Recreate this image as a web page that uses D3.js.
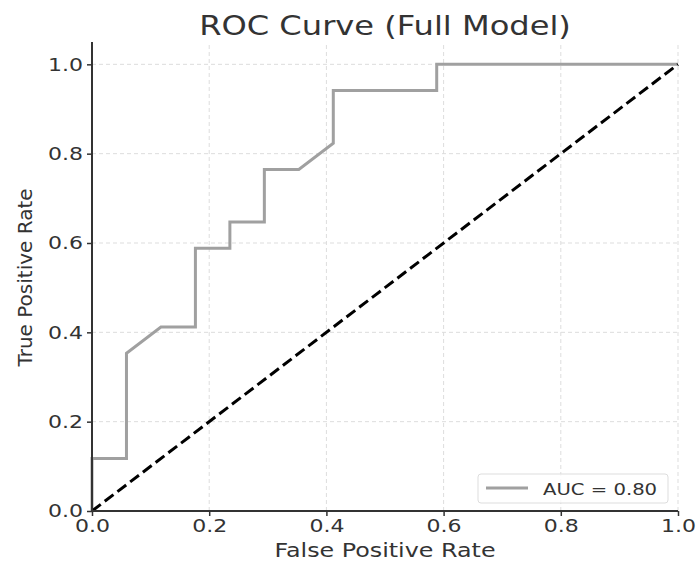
<!DOCTYPE html>
<html><head><meta charset="utf-8">
<script src="https://cdn.jsdelivr.net/npm/d3@7"></script>
<style>body{margin:0;background:#fff}svg text{font-family:"DejaVu Sans",sans-serif;fill:#333}</style>
</head><body>
<script>
const fpr = [0, 0, 1/17, 1/17, 2/17, 3/17, 3/17, 4/17, 4/17, 5/17, 5/17, 6/17, 7/17, 7/17, 10/17, 10/17, 1];
const tpr = [0, 2/17, 2/17, 6/17, 7/17, 7/17, 10/17, 10/17, 11/17, 11/17, 13/17, 13/17, 14/17, 16/17, 16/17, 1, 1];
const xTicks = [0, 0.2, 0.4, 0.6, 0.8, 1.0];
const yTicks = [0, 0.2, 0.4, 0.6, 0.8, 1.0];
const aucLabel = "AUC = 0.80";
const W = 697, H = 562;
const SX = 1.19;
const svg = d3.select("body").append("svg").attr("width", W).attr("height", H);
const x = d3.scaleLinear().domain([0,1]).range([92, 678]);
const y = d3.scaleLinear().domain([0,1.05]).range([511, 42]);
// grid
svg.append("g").selectAll("line").data(xTicks).join("line")
  .attr("x1", d=>x(d)).attr("x2", d=>x(d)).attr("y1", y(0)).attr("y2", y(1.05))
  .attr("stroke", "#ddd").attr("stroke-width", 1).attr("stroke-dasharray", "4,3");
svg.append("g").selectAll("line").data(yTicks).join("line")
  .attr("y1", d=>y(d)).attr("y2", d=>y(d)).attr("x1", x(0)).attr("x2", x(1))
  .attr("stroke", "#ddd").attr("stroke-width", 1).attr("stroke-dasharray", "4,3");
// ROC line
const pts = fpr.map((f,i)=>[f, tpr[i]]);
svg.append("path").datum(pts).attr("fill","none").attr("stroke","#a0a0a0").attr("stroke-width",3)
  .attr("d", d3.line().x(d=>x(d[0])).y(d=>y(d[1])));
// diagonal
svg.append("path").datum([[0,0],[1,1]]).attr("fill","none").attr("stroke","#000").attr("stroke-width",3)
  .attr("stroke-dasharray","11,5")
  .attr("d", d3.line().x(d=>x(d[0])).y(d=>y(d[1])));
// axes
const xa = svg.append("g").attr("transform",`translate(0,${y(0)})`)
  .call(d3.axisBottom(x).tickValues(xTicks).tickFormat(d3.format(".1f")).tickSize(5).tickPadding(3));
const ya = svg.append("g").attr("transform",`translate(${x(0)},0)`)
  .call(d3.axisLeft(y).tickValues(yTicks).tickFormat(d3.format(".1f")).tickSize(5).tickPadding(4));
[xa, ya].forEach(a=>{
  a.select(".domain").attr("stroke","#333").attr("stroke-width",2);
  a.selectAll(".tick line").attr("stroke","#333").attr("stroke-width",1.5);
  a.selectAll(".tick text").attr("font-size",18.5).attr("fill","#333").attr("font-family","DejaVu Sans")
    .attr("transform", `scale(${SX},1)`);
});
ya.selectAll(".tick text").attr("x", -9/SX);
xa.select(".domain").attr("d", `M${x(0)},0H${x(1)}`);
ya.select(".domain").attr("d", `M0,${y(0)}V${y(1.05)}`);
// title and labels
const cx = (x(0)+x(1))/2;
svg.append("text").attr("transform", `translate(${cx},35) scale(${SX},1)`).attr("text-anchor","middle")
  .attr("font-size", 27).text("ROC Curve (Full Model)");
svg.append("text").attr("transform", `translate(${cx},557) scale(${SX},1)`).attr("text-anchor","middle")
  .attr("font-size", 20).text("False Positive Rate");
svg.append("text").attr("transform", `translate(32,${(y(0)+y(1.05))/2 + 1}) rotate(-90)`).attr("text-anchor","middle")
  .attr("font-size", 20).text("True Positive Rate");
// legend
const lg = svg.append("g");
lg.append("rect").attr("x",478).attr("y",474).attr("width",190).attr("height",29).attr("rx",3)
  .attr("fill","#fff").attr("fill-opacity",0.8).attr("stroke","#ddd");
lg.append("line").attr("x1",486).attr("x2",528).attr("y1",488).attr("y2",488).attr("stroke","#a0a0a0").attr("stroke-width",3);
lg.append("text").attr("transform", `translate(543,495) scale(${SX},1)`).attr("font-size",16.5).text(aucLabel);
</script>
</body></html>
